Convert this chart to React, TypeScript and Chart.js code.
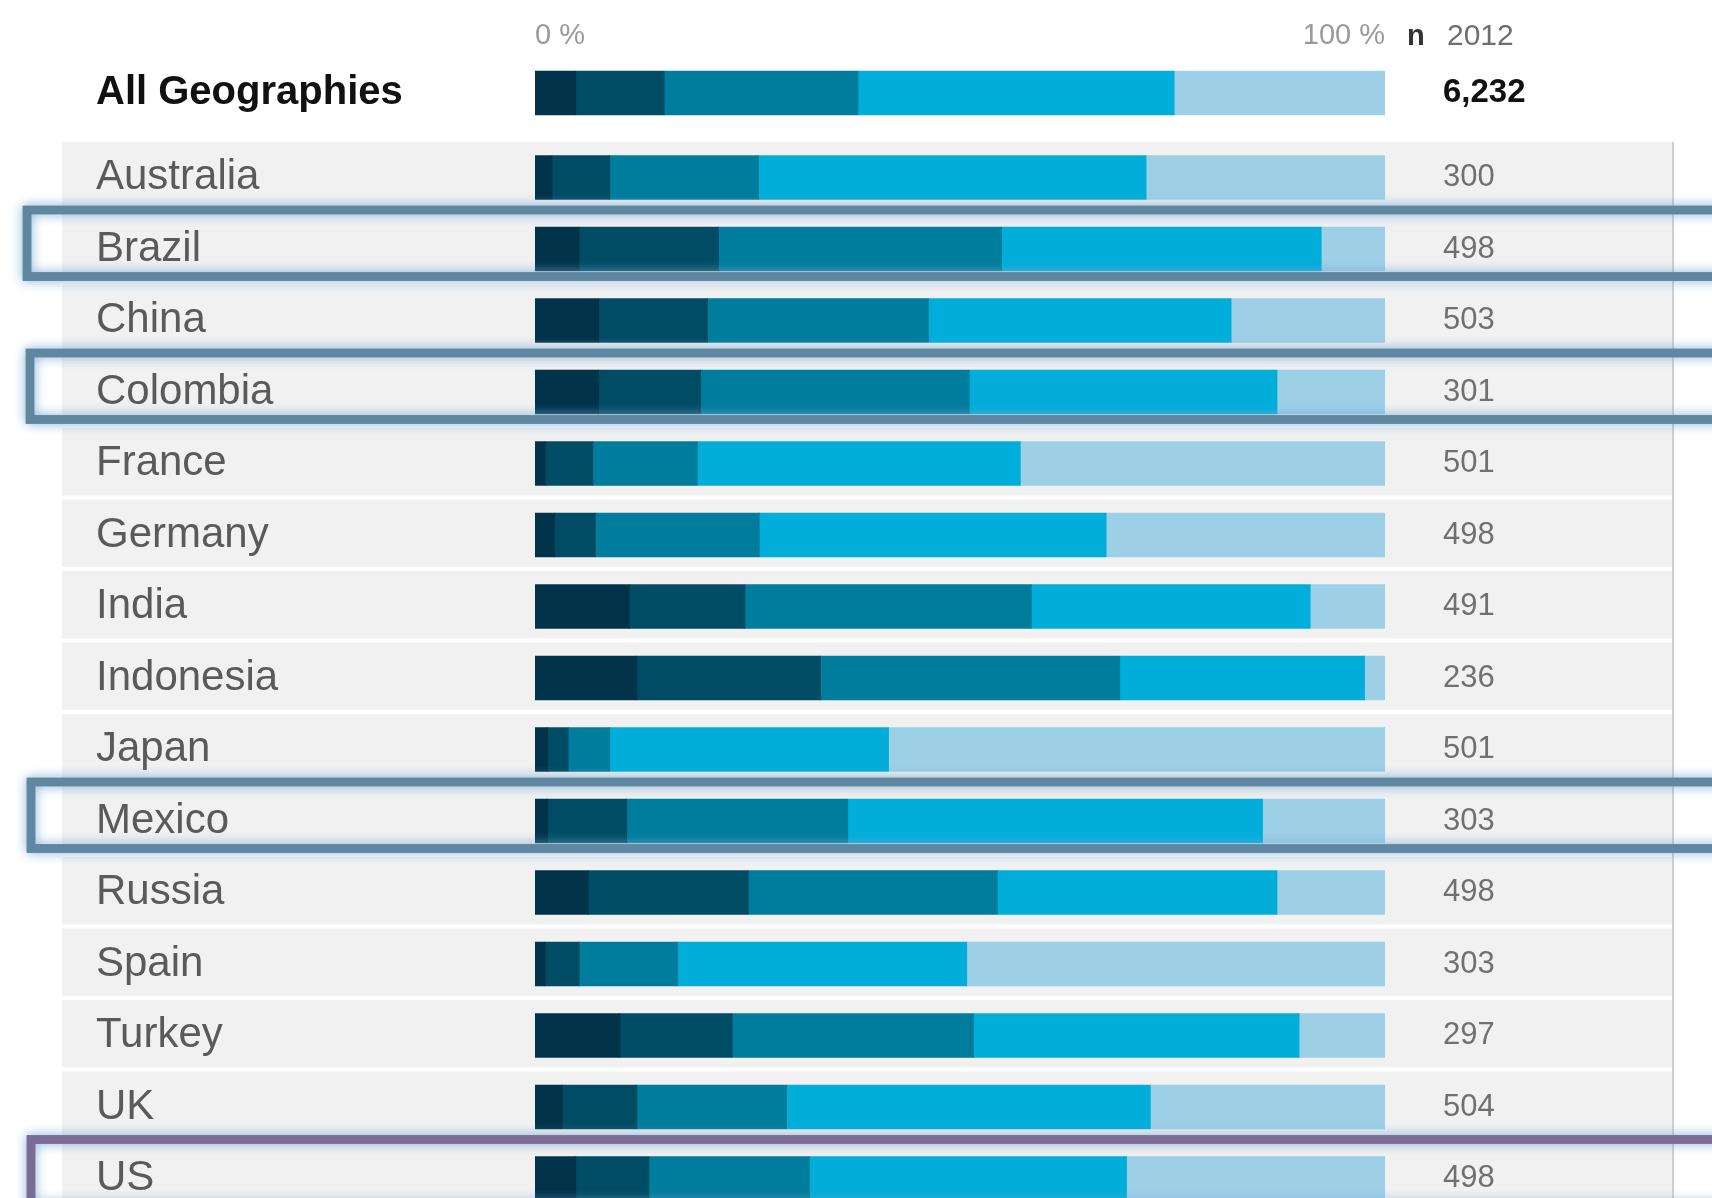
import React, { useEffect, useRef } from "react";
import { Chart, registerables } from "chart.js";

Chart.register(...registerables);

// ---------- data ----------
const seriesNames = ["Level 1", "Level 2", "Level 3", "Level 4", "Level 5"];
const seriesColors = ["#01334a", "#004c64", "#007c9c", "#00aed9", "#9dcfe7"];

const overallLabel = ["All Geographies"];
const overallN = ["6,232"];
const overallValues = [4.8, 10.4, 22.8, 37.2, 24.8];

const countries = [
  "Australia", "Brazil", "China", "Colombia", "France", "Germany", "India",
  "Indonesia", "Japan", "Mexico", "Russia", "Spain", "Turkey", "UK", "US",
];
const nValues = ["300", "498", "503", "301", "501", "498", "491", "236", "501", "303", "498", "303", "297", "504", "498"];

const seg1 = [2.0, 5.2, 7.5, 7.5, 1.2, 2.3, 11.1, 12.0, 1.5, 1.5, 6.3, 1.2, 10.0, 3.2, 4.8];
const seg2 = [6.8, 16.4, 12.8, 12.0, 5.6, 4.8, 13.6, 21.6, 2.4, 9.3, 18.8, 4.0, 13.2, 8.8, 8.6];
const seg3 = [17.5, 33.3, 26.0, 31.6, 12.3, 19.3, 33.7, 35.2, 4.9, 26.0, 29.3, 11.6, 28.4, 17.6, 18.9];
const seg4 = [45.6, 37.6, 35.6, 36.2, 38.0, 40.8, 32.8, 28.8, 32.8, 48.8, 32.9, 34.0, 38.3, 42.8, 37.3];
const seg5 = [28.1, 7.5, 18.1, 12.7, 42.9, 32.8, 8.8, 2.4, 58.4, 14.4, 12.7, 49.2, 10.1, 27.6, 30.4];
const countrySeries = [seg1, seg2, seg3, seg4, seg5];

const axisTicks = [0, 100];
const headerN = "n";
const headerYear = "2012";

const highlighted = ["Brazil", "Colombia", "Mexico", "US"];

// ---------- styles ----------
const FONT = "'Liberation Sans', Arial, sans-serif";
const highlightStyle: Record<string, { color: string; left: number }> = {
  Brazil: { color: "#5f87a1", left: 27 },
  Colombia: { color: "#5f87a1", left: 30 },
  Mexico: { color: "#5f87a1", left: 31 },
  US: { color: "#7b6c97", left: 31 },
};

const W = 1712;

const fitY = (w: number) => (axis: any) => {
  axis.width = w;
  axis.paddingTop = 0;
  axis.paddingBottom = 0;
  axis.paddingLeft = 0;
  axis.paddingRight = 0;
};

export default function App() {
  const topRef = useRef<HTMLCanvasElement>(null);
  const mainRef = useRef<HTMLCanvasElement>(null);

  useEffect(() => {
    const headerPlugin = {
      id: "headerText",
      afterDraw(chart: any) {
        const ctx = chart.ctx;
        const right = chart.chartArea.right;
        ctx.save();
        ctx.textBaseline = "middle";
        ctx.textAlign = "left";
        ctx.fillStyle = "#333333";
        ctx.font = `bold 29px ${FONT}`;
        ctx.fillText(headerN, right + 22, 37);
        ctx.fillStyle = "#6e6e6e";
        ctx.font = `30px ${FONT}`;
        ctx.fillText(headerYear, right + 62, 37);
        ctx.restore();
      },
    };

    const topChart = new Chart(topRef.current as HTMLCanvasElement, {
      type: "bar",
      data: {
        labels: overallLabel,
        datasets: seriesNames.map((name, i) => ({
          label: name,
          data: [overallValues[i]],
          backgroundColor: seriesColors[i],
          borderWidth: 0,
          barThickness: 44,
          yAxisID: "y",
        })),
      },
      options: {
        indexAxis: "y",
        animation: false,
        responsive: false,
        devicePixelRatio: 1,
        layout: { padding: { top: 0, bottom: 14, left: 96, right: 0 } },
        plugins: { legend: { display: false }, tooltip: { enabled: false } },
        scales: {
          x: {
            position: "top",
            stacked: true,
            min: 0,
            max: 100,
            afterBuildTicks: (axis: any) => {
              axis.ticks = axisTicks.map((v) => ({ value: v }));
            },
            ticks: {
              callback: (v: any) => `${v} %`,
              align: "inner",
              padding: 7,
              color: "#9a9a9a",
              font: { family: FONT, size: 29 },
              maxRotation: 0,
              autoSkip: false,
            },
            grid: { display: false, drawTicks: false },
            border: { display: false },
            afterFit: (axis: any) => {
              axis.height = 60;
              axis.paddingLeft = 0;
              axis.paddingRight = 0;
              axis.paddingTop = 0;
              axis.paddingBottom = 0;
            },
          },
          y: {
            stacked: true,
            position: "left",
            ticks: {
              crossAlign: "far",
              color: "#111111",
              font: { family: FONT, size: 40, weight: "bold" },
              padding: 0,
            },
            grid: { display: false, drawTicks: false },
            border: { display: false },
            afterFit: fitY(535 - 96),
          },
          yN: {
            type: "category",
            axis: "y",
            position: "right",
            offset: true,
            labels: overallN,
            ticks: {
              crossAlign: "near",
              padding: 58,
              color: "#111111",
              font: { family: FONT, size: 33, weight: "bold" },
            },
            grid: { display: false, drawTicks: false },
            border: { display: false },
            afterFit: fitY(W - 1385),
          },
        },
      } as any,
      plugins: [headerPlugin],
    });

    const rowsPlugin = {
      id: "rowsDecor",
      beforeDraw(chart: any) {
        const ctx = chart.ctx;
        const y = chart.scales.y;
        ctx.save();
        ctx.fillStyle = "#f1f1f1";
        let firstTop = Infinity;
        countries.forEach((_, i) => {
          const c = y.getPixelForValue(i);
          const top = c - 35.5;
          firstTop = Math.min(firstTop, top);
          ctx.fillRect(62, top, 1672 - 62, 67.5);
        });
        ctx.strokeStyle = "#cfcfcf";
        ctx.lineWidth = 2;
        ctx.beginPath();
        ctx.moveTo(1673, firstTop);
        ctx.lineTo(1673, chart.height);
        ctx.stroke();
        ctx.restore();
      },
      afterDraw(chart: any) {
        const ctx = chart.ctx;
        const y = chart.scales.y;
        highlighted.forEach((name) => {
          const idx = countries.indexOf(name);
          if (idx < 0) return;
          const st = highlightStyle[name];
          const c = y.getPixelForValue(idx);
          const top = c - 39;
          const bottom = c + 27.5;
          ctx.save();
          ctx.strokeStyle = st.color;
          ctx.lineWidth = 8.5;
          ctx.shadowColor = "rgba(120,170,210,0.95)";
          ctx.shadowBlur = 12;
          ctx.strokeRect(st.left, top, W + 40 - st.left, bottom - top);
          ctx.shadowBlur = 0;
          ctx.strokeRect(st.left, top, W + 40 - st.left, bottom - top);
          ctx.restore();
        });
      },
    };

    const mainChart = new Chart(mainRef.current as HTMLCanvasElement, {
      type: "bar",
      data: {
        labels: countries,
        datasets: seriesNames.map((name, i) => ({
          label: name,
          data: countrySeries[i],
          backgroundColor: seriesColors[i],
          borderWidth: 0,
          barThickness: 44,
          yAxisID: "y",
        })),
      },
      options: {
        indexAxis: "y",
        animation: false,
        responsive: false,
        devicePixelRatio: 1,
        layout: { padding: { top: 11.75, bottom: 15.75, left: 96, right: 0 } },
        plugins: { legend: { display: false }, tooltip: { enabled: false } },
        scales: {
          x: {
            display: false,
            stacked: true,
            min: 0,
            max: 100,
          },
          y: {
            stacked: true,
            position: "left",
            ticks: {
              crossAlign: "far",
              color: "#5a5a5a",
              font: { family: FONT, size: 42 },
              padding: 0,
              autoSkip: false,
            },
            grid: { display: false, drawTicks: false },
            border: { display: false },
            afterFit: fitY(535 - 96),
          },
          yN: {
            type: "category",
            axis: "y",
            position: "right",
            offset: true,
            labels: nValues,
            ticks: {
              crossAlign: "near",
              padding: 58,
              color: "#707070",
              font: { family: FONT, size: 31 },
              autoSkip: false,
            },
            grid: { display: false, drawTicks: false },
            border: { display: false },
            afterFit: fitY(W - 1385),
          },
        },
      } as any,
      plugins: [rowsPlugin],
    });

    return () => {
      topChart.destroy();
      mainChart.destroy();
    };
  }, []);

  return (
    <div
      style={{
        position: "fixed",
        left: 0,
        top: 0,
        width: W,
        height: 1198,
        overflow: "hidden",
        background: "#ffffff",
      }}
    >
      <canvas
        ref={topRef}
        width={W}
        height={140}
        style={{ position: "absolute", left: 0, top: 0, width: W, height: 140 }}
      />
      <canvas
        ref={mainRef}
        width={W}
        height={1100}
        style={{ position: "absolute", left: 0, top: 130, width: W, height: 1100 }}
      />
    </div>
  );
}
